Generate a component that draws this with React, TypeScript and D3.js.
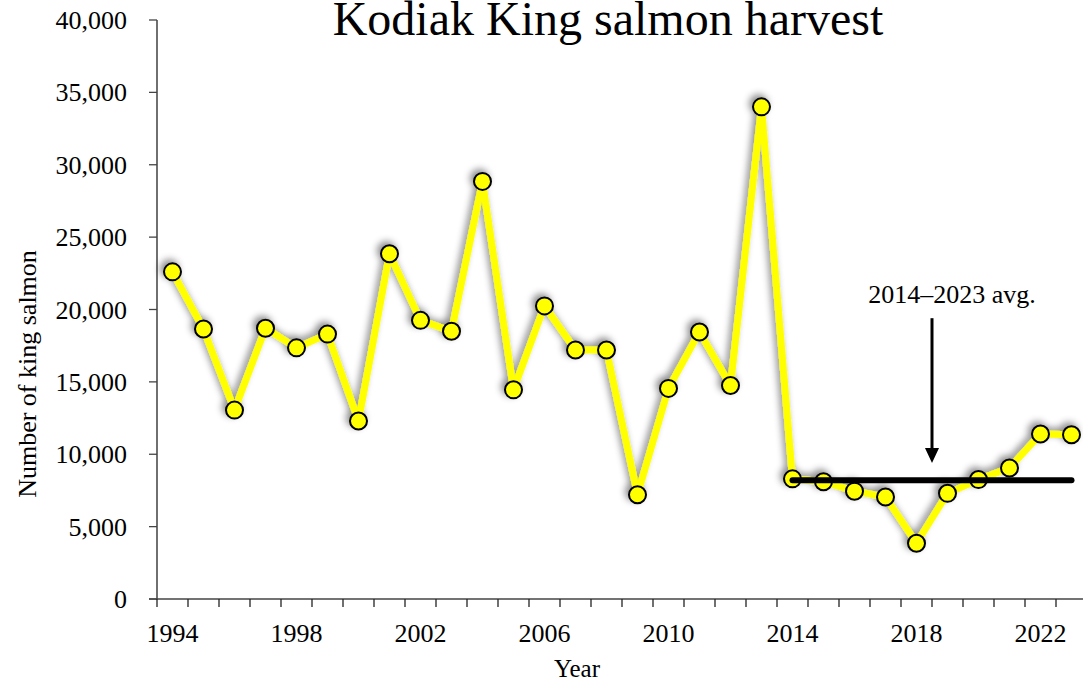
import React from "react";
import * as d3 from "d3";

const years: number[] = d3.range(1994, 2024);
const harvest: number[] = [
  22600, 18650, 13050, 18700, 17350, 18300, 12300, 23850, 19250, 18500,
  28850, 14450, 20250, 17200, 17200, 7200, 14550, 18450, 14750, 34000,
  8300, 8100, 7450, 7050, 3850, 7300, 8250, 9050, 11400, 11350,
];
const yTicks: number[] = [0, 5000, 10000, 15000, 20000, 25000, 30000, 35000, 40000];
const xLabelYears: number[] = [1994, 1998, 2002, 2006, 2010, 2014, 2018, 2022];
const avgStart = 2014;
const avgEnd = 2023;
const arrowYear = 2018; // arrow sits at the boundary after this year
const arrowTop = 19400;
const arrowTip = 9400;
const annotationText = "2014\u20132023 avg.";
const annotationValue = 20450;

const W = 1083;
const H = 684;
const FONT = "'Liberation Serif', 'Times New Roman', Times, serif";

export default function App() {
  const x = d3
    .scaleBand<number>()
    .domain(years)
    .range([157, 157 + 31 * years.length])
    .paddingInner(0)
    .paddingOuter(0);
  const bw = x.bandwidth();
  const cx = (yr: number) => (x(yr) as number) + bw / 2;
  const y = d3.scaleLinear().domain([0, 40000]).range([599, 20]);

  const sel = years.filter((yr) => yr >= avgStart && yr <= avgEnd);
  const avg = d3.mean(sel.map((yr) => harvest[years.indexOf(yr)])) as number;

  const line = d3
    .line<number>()
    .x((_, i) => cx(years[i]))
    .y((d) => y(d));

  const fmt = d3.format(",");
  const boundaries = d3.range(0, years.length + 1).map((k) => 157 + k * bw);
  const arrowX = (x(arrowYear) as number) + bw;

  return (
    <svg
      width={W}
      height={H}
      style={{ position: "absolute", left: 0, top: 0, background: "#fff" }}
      fontFamily={FONT}
    >
      <defs>
        <filter id="shadow" x="-10%" y="-10%" width="120%" height="120%">
          <feDropShadow dx={-3} dy={-3} stdDeviation={3.5} floodColor="#000" floodOpacity={0.45} />
        </filter>
      </defs>
      <rect x={0} y={0} width={W} height={H} fill="#fff" />

      <text x={608} y={35} fontSize={48} textAnchor="middle" fill="#000">
        Kodiak King salmon harvest
      </text>

      {/* Y axis */}
      <line x1={157} x2={157} y1={y(40000)} y2={y(0)} stroke="#222" strokeWidth={1.3} />
      {yTicks.map((t) => (
        <g key={t}>
          <line x1={149} x2={157} y1={y(t)} y2={y(t)} stroke="#444" strokeWidth={1.3} />
          <text x={127} y={y(t)} dy="0.35em" fontSize={26} textAnchor="end" fill="#000">
            {fmt(t)}
          </text>
        </g>
      ))}

      {/* X axis */}
      <line x1={149} x2={W} y1={y(0)} y2={y(0)} stroke="#444" strokeWidth={1.3} />
      {boundaries.map((b, i) => (
        <line key={i} x1={b} x2={b} y1={y(0)} y2={y(0) + 8} stroke="#222" strokeWidth={1.3} />
      ))}
      {xLabelYears.map((yr) => (
        <text key={yr} x={cx(yr)} y={642} fontSize={26} textAnchor="middle" fill="#000">
          {yr}
        </text>
      ))}

      <text x={577} y={677} fontSize={25} textAnchor="middle" fill="#000">
        Year
      </text>
      <text
        transform={`translate(36,374) rotate(-90)`}
        fontSize={26}
        textAnchor="middle"
        fill="#000"
      >
        Number of king salmon
      </text>

      {/* Series */}
      <g filter="url(#shadow)">
        <path
          d={line(harvest) as string}
          fill="none"
          stroke="#FFFF00"
          strokeWidth={7}
          strokeLinejoin="round"
        />
        {harvest.map((v, i) => (
          <circle
            key={i}
            cx={cx(years[i])}
            cy={y(v)}
            r={8.5}
            fill="#FFFF00"
            stroke="#000"
            strokeWidth={2}
          />
        ))}
      </g>

      {/* Average line */}
      <line
        x1={cx(avgStart)}
        x2={cx(avgEnd)}
        y1={y(avg)}
        y2={y(avg)}
        stroke="#000"
        strokeWidth={6}
        strokeLinecap="round"
      />

      {/* Arrow and annotation */}
      <line x1={arrowX} x2={arrowX} y1={y(arrowTop)} y2={y(arrowTip) - 12} stroke="#000" strokeWidth={3} />
      <path
        d={`M${arrowX - 7},${y(arrowTip) - 15} L${arrowX + 7},${y(arrowTip) - 15} L${arrowX},${y(arrowTip)} Z`}
        fill="#000"
      />
      <text x={952} y={y(annotationValue)} fontSize={26} textAnchor="middle" fill="#000">
        {annotationText}
      </text>
    </svg>
  );
}
